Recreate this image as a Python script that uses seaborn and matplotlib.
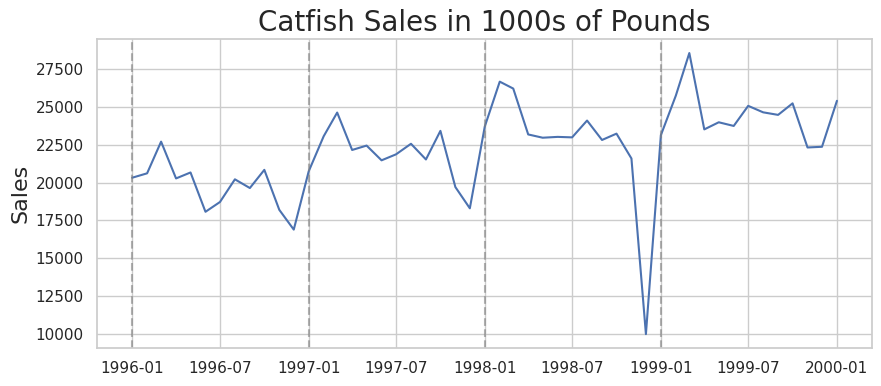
import matplotlib
matplotlib.use("Agg")
import matplotlib.pyplot as plt
import pandas as pd
import seaborn as sns

sns.set_theme(style="whitegrid")

# monthly catfish sales (1000s of pounds), Jan 1996 - Jan 2000
months = pd.date_range("1996-01-01", "2000-01-01", freq="MS")
sales = [20322, 20613, 22704, 20276, 20669, 18074, 18719, 20217, 19642, 20842, 18204, 16898,
         20746, 23058, 24624, 22154, 22444, 21471, 21866, 22563, 21528, 23416, 19707, 18303,
         23704, 26664, 26207, 23179, 22963, 23018, 22986, 24096, 22814, 23232, 21592, 10000,
         23130, 25740, 28552, 23512, 23982, 23740, 25066, 24639, 24470, 25231, 22319, 22365,
         25400]
year_starts = ["1996-01-01", "1997-01-01", "1998-01-01", "1999-01-01"]

df = pd.DataFrame({"Date": months, "Sales": sales})

fig, ax = plt.subplots(figsize=(8.81, 3.86), dpi=100)
fig.subplots_adjust(left=0.110, right=0.990, top=0.899, bottom=0.098)

sns.lineplot(data=df, x="Date", y="Sales", ax=ax)

for d in year_starts:
    ax.axvline(pd.Timestamp(d), color="gray", linestyle="--", alpha=0.6)

ax.set_title("Catfish Sales in 1000s of Pounds", fontsize=20)
ax.set_ylabel("Sales", fontsize=16)
ax.set_xlabel("")

plt.savefig("out.png", dpi=100)
